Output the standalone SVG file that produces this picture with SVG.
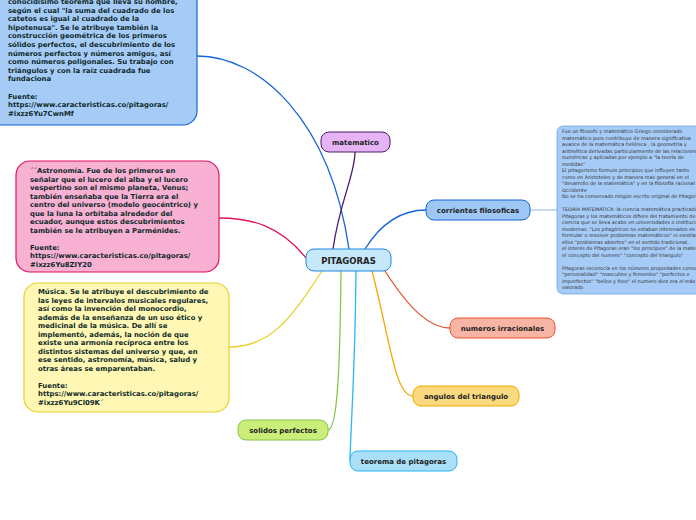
<svg xmlns="http://www.w3.org/2000/svg" width="696" height="520" viewBox="0 0 696 520">
<style>
.b{font-family:"DejaVu Sans",Verdana,sans-serif;font-weight:bold;font-size:6.9px;fill:#0d2a2a}
.s{font-family:"DejaVu Sans",Verdana,sans-serif;font-size:4.9px;fill:#333}
.n{font-family:"DejaVu Sans",Verdana,sans-serif;font-weight:bold;font-size:7px;fill:#222;text-anchor:middle}
.c{fill:none;stroke-width:1.3}
</style>
<rect width="696" height="520" fill="#fff"/>
<g id="connectors">
<path class="c" stroke="#1565d8" d="M349,249 C330,120 260,56 197,56"/>
<path class="c" stroke="#4a1a6b" d="M333,249 C340,200 355,175 355,152"/>
<path class="c" stroke="#1565d8" d="M365,249 C380,225 400,210 426,210"/>
<path class="c" stroke="#e0115f" d="M306,258 C280,225 250,218 219,218"/>
<path class="c" stroke="#e6d12a" d="M322,271 C290,320 270,347 229,347"/>
<path class="c" stroke="#e8552b" d="M385,271 C410,310 430,328 450,328"/>
<path class="c" stroke="#f5a800" d="M372,271 C390,340 395,396 413,396"/>
<path class="c" stroke="#29b6f6" d="M356,271 C355,380 350,440 350,461"/>
<path class="c" stroke="#8bc34a" d="M341,271 C340,360 338,430 328,430"/>
<path stroke="#6fa8dc" stroke-width="0.8" d="M530,210 H557"/>
</g>
<g id="box-top">
<rect x="-20" y="-20" width="217" height="145" rx="14" fill="#a7cbf7" stroke="#1565d8" stroke-width="1.2"/>
<text class="b"><tspan x="8" y="4">conocidísimo teorema que lleva su nombre,</tspan><tspan x="8" y="12.6">según el cual "la suma del cuadrado de los</tspan><tspan x="8" y="21.2">catetos es igual al cuadrado de la</tspan><tspan x="8" y="29.8">hipotenusa". Se le atribuye también la</tspan><tspan x="8" y="38.4">construcción geométrica de los primeros</tspan><tspan x="8" y="47">sólidos perfectos, el descubrimiento de los</tspan><tspan x="8" y="55.6">números perfectos y números amigos, así</tspan><tspan x="8" y="64.2">como números poligonales. Su trabajo con</tspan><tspan x="8" y="72.8">triángulos y con la raíz cuadrada fue</tspan><tspan x="8" y="81.4">fundaciona</tspan><tspan x="8" y="98.6">Fuente:</tspan><tspan x="8" y="107.2">https://www.caracteristicas.co/pitagoras/</tspan><tspan x="8" y="115.8">#ixzz6Yu7CwnMf</tspan></text>
</g>
<g id="box-astro">
<rect x="16" y="161" width="203" height="111" rx="14" fill="#f9b1d3" stroke="#e0115f" stroke-width="1.2"/>
<text class="b"><tspan x="30" y="173">´´Astronomía. Fue de los primeros en</tspan><tspan x="30" y="181.5">señalar que el lucero del alba y el lucero</tspan><tspan x="30" y="190">vespertino son el mismo planeta, Venus;</tspan><tspan x="30" y="198.5">también enseñaba que la Tierra era el</tspan><tspan x="30" y="207">centro del universo (modelo geocéntrico) y</tspan><tspan x="30" y="215.5">que la luna la orbitaba alrededor del</tspan><tspan x="30" y="224">ecuador, aunque estos descubrimientos</tspan><tspan x="30" y="232.5">también se le atribuyen a Parménides.</tspan><tspan x="30" y="249.5">Fuente:</tspan><tspan x="30" y="258">https://www.caracteristicas.co/pitagoras/</tspan><tspan x="30" y="266.5">#ixzz6Yu8ZIY20</tspan></text>
</g>
<g id="box-musica">
<rect x="24" y="283" width="205" height="129" rx="14" fill="#fff7b3" stroke="#e6d12a" stroke-width="1.2"/>
<text class="b"><tspan x="38" y="294">Música. Se le atribuye el descubrimiento de</tspan><tspan x="38" y="302.5">las leyes de intervalos musicales regulares,</tspan><tspan x="38" y="311">así como la invención del monocordio,</tspan><tspan x="38" y="319.5">además de la enseñanza de un uso ético y</tspan><tspan x="38" y="328">medicinal de la música. De allí se</tspan><tspan x="38" y="336.5">implementó, además, la noción de que</tspan><tspan x="38" y="345">existe una armonía recíproca entre los</tspan><tspan x="38" y="353.5">distintos sistemas del universo y que, en</tspan><tspan x="38" y="362">ese sentido, astronomía, música, salud y</tspan><tspan x="38" y="370.5">otras áreas se emparentaban.</tspan><tspan x="38" y="387.5">Fuente:</tspan><tspan x="38" y="396">https://www.caracteristicas.co/pitagoras/</tspan><tspan x="38" y="404.5">#ixzz6Yu9Cl09K´</tspan></text>
</g>
<g id="box-right">
<rect x="557" y="126" width="150" height="168" rx="6" fill="#a7cbf7" stroke="#6fa8dc" stroke-width="0.8"/>
<text class="s"><tspan x="562" y="133">Fue un filosofo y matemático Griego considerado</tspan><tspan x="562" y="139.5">matemático puro contribuyo de manera significativa</tspan><tspan x="562" y="146">avance de la matemática helénica , la geometría y</tspan><tspan x="562" y="152.5">aritmética derivadas particularmente de las relaciones</tspan><tspan x="562" y="159">numéricas y aplicadas por ejemplo a "la teoría de</tspan><tspan x="562" y="165.5">medidas"</tspan><tspan x="562" y="172">El pitagorismo formulo principios que influyen tanto</tspan><tspan x="562" y="178.5">como en Aristoteles y de manera mas general en el</tspan><tspan x="562" y="185">"desarrollo de la matemática" y en la filosofía racional</tspan><tspan x="562" y="191.5">Occidente</tspan><tspan x="562" y="198">No se ha conservado ningún escrito original de Pitagoras</tspan><tspan x="562" y="211">TEORÍA MATEMÁTICA: la ciencia matemática practicada</tspan><tspan x="562" y="217.5">Pitagoras y los matemáticos difiere del tratamiento de la</tspan><tspan x="562" y="224">ciencia que se lleva acabo en universidades o instituciones</tspan><tspan x="562" y="230.5">modernas ."Los pitagóricos no estaban interesados en</tspan><tspan x="562" y="237">formular o resolver problemas matemáticos" ni existían para</tspan><tspan x="562" y="243.5">ellos "problemas abiertos" en el sentido tradicional,</tspan><tspan x="562" y="250">el interés de Pitagoras eran "los principios" de la matemática</tspan><tspan x="562" y="256.5">el concepto del numero"  "concepto del triangulo"</tspan><tspan x="562" y="269.5">Pitagoras reconocía en los números propiedades como la</tspan><tspan x="562" y="276">"personalidad" "masculino y femenino" "perfectos e</tspan><tspan x="562" y="282.5">imperfectos" "bellos y feos" el numero diez era el más</tspan><tspan x="562" y="289">valorado</tspan></text>
</g>
<g id="pitagoras"><rect x="306" y="249" width="85" height="22" rx="8" fill="#c5e8fa" stroke="#1e88e5" stroke-width="1"/><text class="n" x="348.5" y="263.5" style="font-size:8.5px">PITAGORAS</text></g>
<g id="matematico"><rect x="321" y="132" width="69" height="20" rx="8" fill="#e6b3f5" stroke="#4a1a6b" stroke-width="1"/><text class="n" x="355.5" y="145">matematico</text></g>
<g id="corrientes"><rect x="426" y="200" width="104" height="20" rx="8" fill="#9ec7f5" stroke="#1565d8" stroke-width="1"/><text class="n" x="478" y="213">corrientes filosoficas</text></g>
<g id="irracionales"><rect x="450" y="318" width="105" height="20" rx="8" fill="#f8b4a4" stroke="#e8552b" stroke-width="1"/><text class="n" x="502.5" y="331">numeros irracionales</text></g>
<g id="angulos"><rect x="413" y="386" width="106" height="20" rx="8" fill="#fbd97e" stroke="#f5a800" stroke-width="1"/><text class="n" x="466" y="399">angulos del triangulo</text></g>
<g id="teorema"><rect x="350" y="451" width="107" height="20" rx="8" fill="#a9e0f8" stroke="#29b6f6" stroke-width="1"/><text class="n" x="403.5" y="464">teorema de pitagoras</text></g>
<g id="solidos"><rect x="238" y="420" width="90" height="20" rx="8" fill="#c9ee7a" stroke="#8bc34a" stroke-width="1"/><text class="n" x="283" y="433">solidos perfectos</text></g>
</svg>
